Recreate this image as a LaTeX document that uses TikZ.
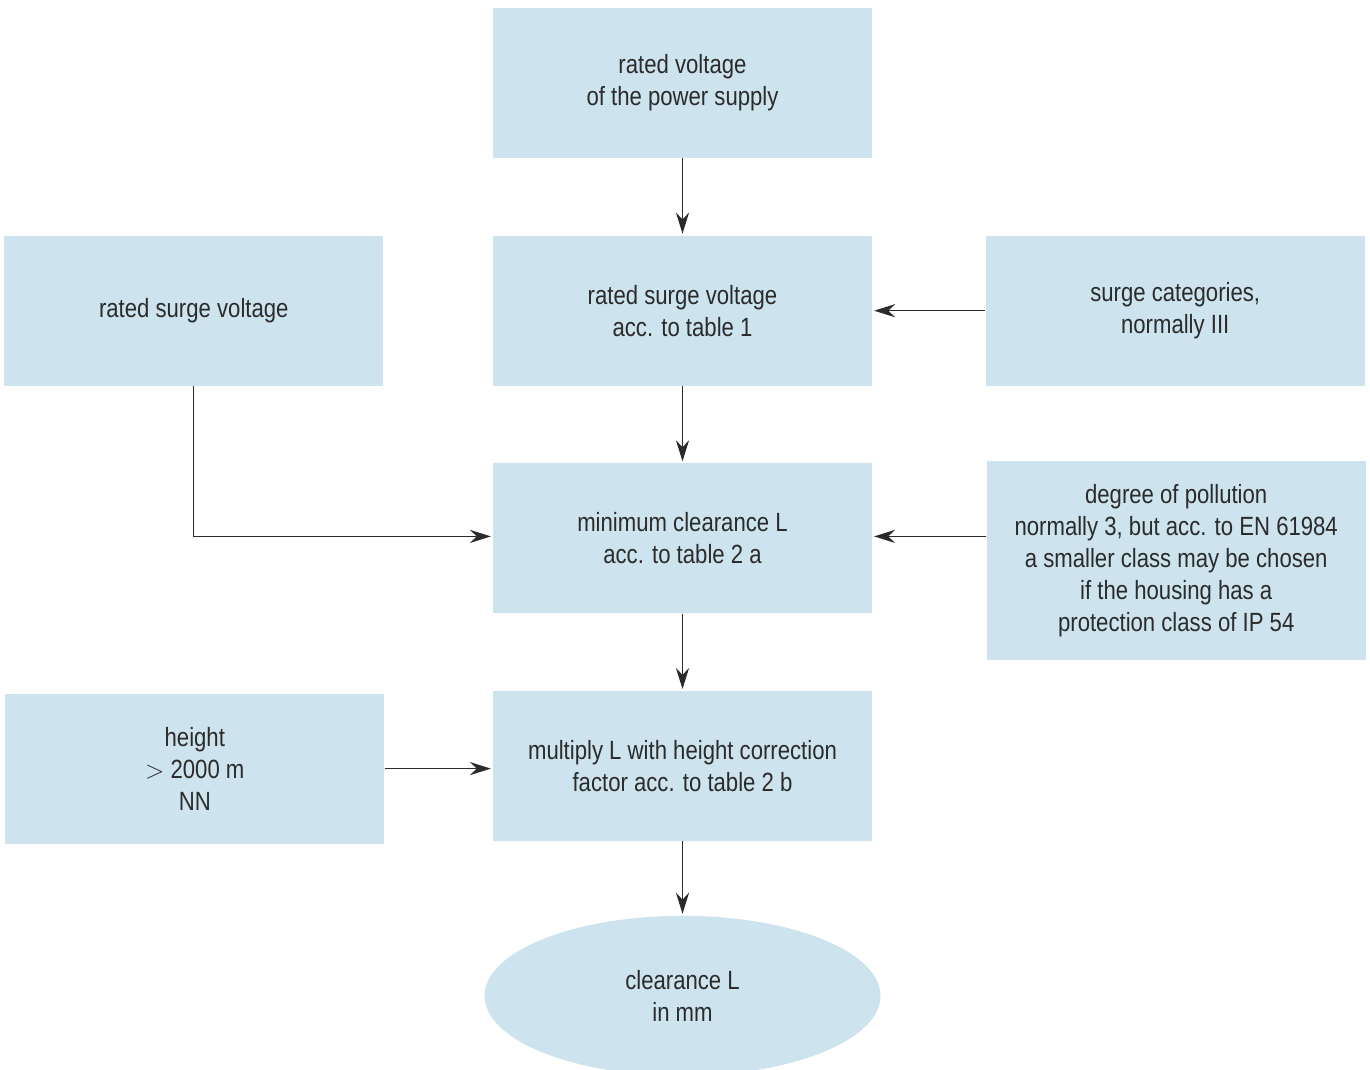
\documentclass[tikz,border=0pt]{standalone}
\usepackage{fontspec}
\setmainfont{Liberation Sans}[FakeStretch=0.84]
\usepackage{xcolor}
\usepackage{tikz}
\usetikzlibrary{shapes,arrows.meta,positioning,calc}

\definecolor{boxfill}{HTML}{CDE3EE}
\definecolor{ink}{HTML}{2B2B2B}

\begin{document}
\begin{tikzpicture}[
    node distance=1.54cm,
    box/.style={rectangle, fill=boxfill, text=ink, align=center, minimum width=7.58cm, minimum height=3cm, inner sep=0pt, font=\fontsize{15}{18.2}\selectfont},
    endnode/.style={ellipse, fill=boxfill, text=ink, align=center, minimum width=7.92cm, minimum height=3.2cm, inner sep=0pt, font=\fontsize{15}{18.2}\selectfont},
    arrow/.style={-{Stealth[length=12pt,width=7.5pt,inset=4pt]}, line width=0.75pt, draw=ink, shorten >=1pt}
]
    \useasboundingbox (0,0) rectangle (27.4,-21.4);

    % Centre column
    \node[box] (supply) at (13.65,-1.66) {rated voltage\\of the power supply};
    \node[box, below=of supply] (surge) {rated surge voltage\\acc. to table 1};
    \node[box, below=of surge] (minimum) {minimum clearance L\\acc. to table 2 a};
    \node[box, below=of minimum] (multiply) {multiply L with height correction\\factor acc. to table 2 b};
    \node[endnode, below=1.48cm of multiply] (clearance) {clearance L\\in mm};

    % Left column
    \node[box, left=2.18cm of surge] (ratedsurge) {rated surge voltage};
    \node[box, left=2.16cm of multiply, yshift=-0.05cm] (height) {height\\$>$ 2000 m\\NN};

    % Right column
    \node[box, right=2.26cm of surge] (categories) {surge categories,\\normally III};
    \node[box, minimum height=3.98cm, right=2.28cm of minimum.north east, anchor=north west, yshift=0.04cm] (pollution) {degree of pollution\\normally 3, but acc. to EN 61984\\a smaller class may be chosen\\if the housing has a\\protection class of IP 54};

    % Arrows
    \draw[arrow] (supply) -- (surge);
    \draw[arrow] (surge) -- (minimum);
    \draw[arrow] (minimum) -- (multiply);
    \draw[arrow] (multiply) -- (clearance);
    \draw[arrow] (categories) -- (surge);
    \draw[arrow] (ratedsurge.south) |- ($(minimum.west)+(0,0.04)$);
    \draw[arrow] ($(minimum.east -| pollution.west)+(0,0.04)$) -- ($(minimum.east)+(0,0.04)$);
    \draw[arrow] (height.east) -- (height.east -| multiply.west);
\end{tikzpicture}
\end{document}
